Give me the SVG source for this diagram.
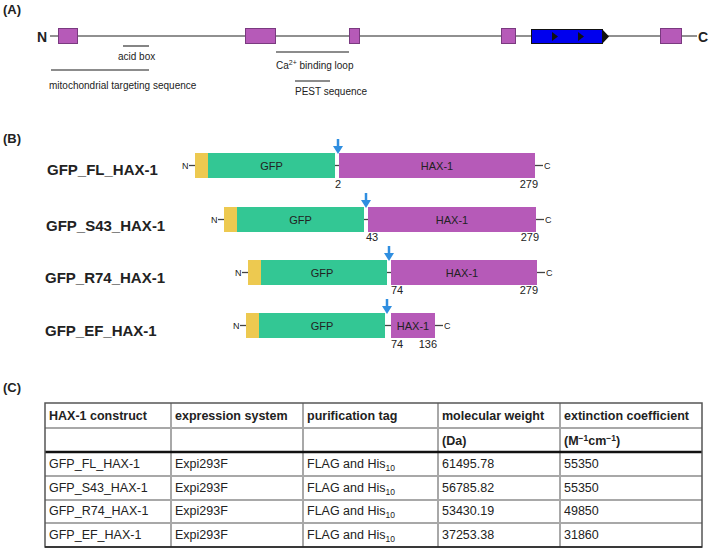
<svg xmlns="http://www.w3.org/2000/svg" width="709" height="550" viewBox="0 0 709 550">
<style>
text{font-family:"Liberation Sans",Arial,sans-serif;fill:#222}
.pl{font-size:13px;font-weight:bold}
.ex{fill:#b65ab8;stroke:#7a3a80;stroke-width:1}
.gl{stroke:#666;stroke-width:1.6}
.sm{font-size:10px}
.lab{font-size:15px;font-weight:bold}
.y{fill:#edc950}
.g{fill:#33c794}
.p{fill:#b65ab8}
.bt{font-size:11px}
.nc{font-size:9px}
.tk{stroke:#444;stroke-width:1.3}
.arr{fill:#2f8ee0}
.th{font-size:12.5px;font-weight:bold}
.td{font-size:12.5px}
.cl{stroke:#a8a8a8;stroke-width:2}
</style>
<rect width="709" height="550" fill="#fff"/>

<!-- Panel A -->
<g id="panelA">
<text class="pl" x="3" y="14">(A)</text>
<text x="37" y="42" font-size="14" font-weight="bold">N</text>
<line x1="50" y1="36" x2="697" y2="36" stroke="#222" stroke-width="1.2"/>
<text x="698" y="42" font-size="14" font-weight="bold">C</text>
<rect class="ex" x="58.5" y="28.5" width="19" height="15"/>
<rect class="ex" x="245.5" y="28.5" width="30" height="15"/>
<rect class="ex" x="349.5" y="28.5" width="10" height="15"/>
<rect class="ex" x="501.5" y="28.5" width="14" height="15"/>
<rect x="531.5" y="29.5" width="71" height="14" fill="#0000ee" stroke="#111" stroke-width="1"/>
<polygon points="602,29 609,36.5 602,44" fill="#111"/>
<polygon points="552,32 558,36.5 552,41" fill="#111"/>
<polygon points="578,32 584,36.5 578,41" fill="#111"/>
<rect class="ex" x="660.5" y="28.5" width="21" height="15"/>
<line class="gl" x1="123" y1="46" x2="149" y2="46"/>
<text class="sm" x="118" y="60">acid box</text>
<line class="gl" x1="51" y1="70" x2="149" y2="70"/>
<text class="sm" x="49" y="89">mitochondrial targeting sequence</text>
<line class="gl" x1="276" y1="52" x2="349" y2="52"/>
<text class="sm" x="276" y="69">Ca<tspan font-size="7" dy="-4">2+</tspan><tspan dy="4"> binding loop</tspan></text>
<line class="gl" x1="295" y1="81" x2="330" y2="81"/>
<text class="sm" x="295" y="95">PEST sequence</text>
</g>

<!-- Panel B -->
<g id="panelB">
<text class="pl" x="3" y="143">(B)</text>
</g>

<g id="row1">
<text class="lab" x="47" y="175">GFP_FL_HAX-1</text>
<text class="nc" x="182" y="169">N</text>
<line class="tk" x1="189" y1="165.5" x2="195" y2="165.5"/>
<rect class="y" x="195" y="153" width="13" height="25"/>
<rect class="g" x="208" y="153" width="127" height="25"/>
<line class="tk" x1="335" y1="165.5" x2="339" y2="165.5"/>
<rect class="p" x="339" y="153" width="196" height="25"/>
<line class="tk" x1="535" y1="165.5" x2="543" y2="165.5"/>
<text class="nc" x="544" y="169">C</text>
<text class="bt" x="271.5" y="169.5" text-anchor="middle">GFP</text>
<text class="bt" x="437" y="169.5" text-anchor="middle">HAX-1</text>
<text class="bt" x="335" y="188">2</text>
<text class="bt" x="538" y="188" text-anchor="end">279</text>
<line x1="338" y1="139" x2="338" y2="148" stroke="#2f8ee0" stroke-width="2.5"/>
<polygon class="arr" points="333,146 343,146 338,154"/>
</g>

<g id="row2">
<text class="lab" x="46" y="231">GFP_S43_HAX-1</text>
<text class="nc" x="211" y="223">N</text>
<line class="tk" x1="218" y1="219.5" x2="224" y2="219.5"/>
<rect class="y" x="224" y="207" width="13" height="25"/>
<rect class="g" x="237" y="207" width="127" height="25"/>
<line class="tk" x1="364" y1="219.5" x2="368" y2="219.5"/>
<rect class="p" x="368" y="207" width="168" height="25"/>
<line class="tk" x1="536" y1="219.5" x2="544" y2="219.5"/>
<text class="nc" x="545" y="223">C</text>
<text class="bt" x="300.5" y="223.5" text-anchor="middle">GFP</text>
<text class="bt" x="452" y="223.5" text-anchor="middle">HAX-1</text>
<text class="bt" x="366" y="241">43</text>
<text class="bt" x="539" y="241" text-anchor="end">279</text>
<line x1="366" y1="193" x2="366" y2="202" stroke="#2f8ee0" stroke-width="2.5"/>
<polygon class="arr" points="361,200 371,200 366,208"/>
</g>

<g id="row3">
<text class="lab" x="45" y="283">GFP_R74_HAX-1</text>
<text class="nc" x="235" y="276">N</text>
<line class="tk" x1="242" y1="272.5" x2="248" y2="272.5"/>
<rect class="y" x="248" y="260" width="13" height="25"/>
<rect class="g" x="261" y="260" width="126" height="25"/>
<line class="tk" x1="387" y1="272.5" x2="391" y2="272.5"/>
<rect class="p" x="391" y="260" width="146" height="25"/>
<line class="tk" x1="537" y1="272.5" x2="545" y2="272.5"/>
<text class="nc" x="546" y="276">C</text>
<text class="bt" x="322" y="276.5" text-anchor="middle">GFP</text>
<text class="bt" x="462" y="276.5" text-anchor="middle">HAX-1</text>
<text class="bt" x="391" y="294">74</text>
<text class="bt" x="538" y="294" text-anchor="end">279</text>
<line x1="389" y1="246" x2="389" y2="255" stroke="#2f8ee0" stroke-width="2.5"/>
<polygon class="arr" points="384,253 394,253 389,261"/>
</g>

<g id="row4">
<text class="lab" x="45" y="336">GFP_EF_HAX-1</text>
<text class="nc" x="233" y="329">N</text>
<line class="tk" x1="240" y1="325.5" x2="246" y2="325.5"/>
<rect class="y" x="246" y="313" width="13" height="25"/>
<rect class="g" x="259" y="313" width="126" height="25"/>
<line class="tk" x1="385" y1="325.5" x2="391" y2="325.5"/>
<rect class="p" x="391" y="313" width="44" height="25"/>
<line class="tk" x1="435" y1="325.5" x2="443" y2="325.5"/>
<text class="nc" x="444" y="329">C</text>
<text class="bt" x="322" y="329.5" text-anchor="middle">GFP</text>
<text class="bt" x="413" y="329.5" text-anchor="middle">HAX-1</text>
<text class="bt" x="391" y="348">74</text>
<text class="bt" x="437" y="348" text-anchor="end">136</text>
<line x1="387" y1="299" x2="387" y2="308" stroke="#2f8ee0" stroke-width="2.5"/>
<polygon class="arr" points="382,306 392,306 387,314"/>
</g>

<!-- Panel C -->
<g id="panelC">
<text class="pl" x="3" y="392">(C)</text>
<g id="tablegrid">
<line class="cl" x1="45" y1="428" x2="702" y2="428"/>
<line class="cl" x1="45" y1="476" x2="702" y2="476"/>
<line class="cl" x1="45" y1="500" x2="702" y2="500"/>
<line class="cl" x1="45" y1="523" x2="702" y2="523"/>
<line class="cl" x1="171" y1="403" x2="171" y2="547"/>
<line class="cl" x1="303" y1="403" x2="303" y2="547"/>
<line class="cl" x1="438" y1="403" x2="438" y2="547"/>
<line class="cl" x1="560" y1="403" x2="560" y2="547"/>
<line x1="45" y1="452" x2="702" y2="452" stroke="#111" stroke-width="2.5"/>
<rect x="45" y="403" width="657" height="144" fill="none" stroke="#555" stroke-width="1.5"/>
<line x1="45" y1="547" x2="702" y2="547" stroke="#222" stroke-width="1.5"/>
</g>
<text class="th" x="49" y="420">HAX-1 construct</text>
<text class="th" x="175" y="420">expression system</text>
<text class="th" x="307" y="420">purification tag</text>
<text class="th" x="442" y="420">molecular weight</text>
<text class="th" x="564" y="420">extinction coefficient</text>
<text class="th" x="442" y="445">(Da)</text>
<text class="th" x="564" y="445">(M<tspan font-size="8.5" dy="-4">−1</tspan><tspan dy="4">cm</tspan><tspan font-size="8.5" dy="-4">−1</tspan><tspan dy="4">)</tspan></text>

<text class="td" x="49" y="468">GFP_FL_HAX-1</text>
<text class="td" x="175" y="468">Expi293F</text>
<text class="td" x="307" y="468">FLAG and His<tspan font-size="8.5" dy="3">10</tspan></text>
<text class="td" x="442" y="468">61495.78</text>
<text class="td" x="564" y="468">55350</text>

<text class="td" x="49" y="492">GFP_S43_HAX-1</text>
<text class="td" x="175" y="492">Expi293F</text>
<text class="td" x="307" y="492">FLAG and His<tspan font-size="8.5" dy="3">10</tspan></text>
<text class="td" x="442" y="492">56785.82</text>
<text class="td" x="564" y="492">55350</text>

<text class="td" x="49" y="515">GFP_R74_HAX-1</text>
<text class="td" x="175" y="515">Expi293F</text>
<text class="td" x="307" y="515">FLAG and His<tspan font-size="8.5" dy="3">10</tspan></text>
<text class="td" x="442" y="515">53430.19</text>
<text class="td" x="564" y="515">49850</text>

<text class="td" x="49" y="539">GFP_EF_HAX-1</text>
<text class="td" x="175" y="539">Expi293F</text>
<text class="td" x="307" y="539">FLAG and His<tspan font-size="8.5" dy="3">10</tspan></text>
<text class="td" x="442" y="539">37253.38</text>
<text class="td" x="564" y="539">31860</text>
</g>
</svg>
